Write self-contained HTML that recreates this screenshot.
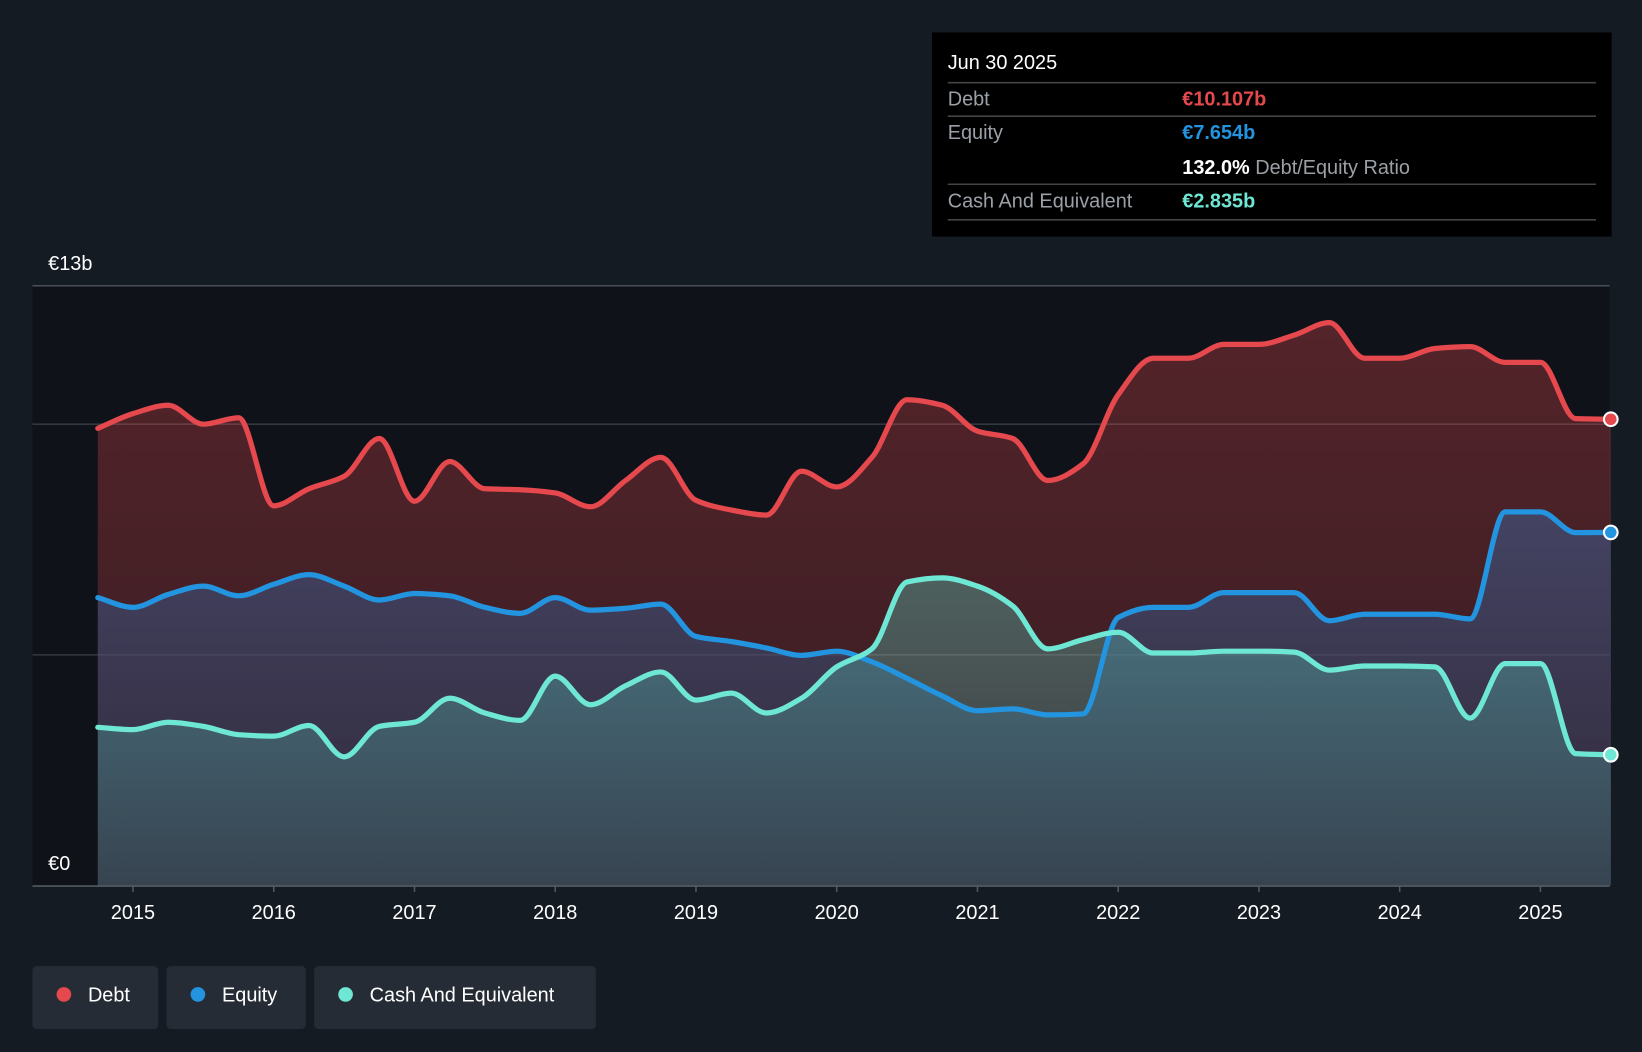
<!DOCTYPE html>
<html><head><meta charset="utf-8"><style>
html,body{margin:0;padding:0;background:#151b23;}
svg{display:block;font-family:"Liberation Sans",Arial,sans-serif;}
</style></head><body>
<svg id="chart" width="1642" height="1052" viewBox="0 0 1568 1005" preserveAspectRatio="none" xmlns="http://www.w3.org/2000/svg">
<defs>
<linearGradient id="gDebt" x1="0" y1="0" x2="0" y2="1"><stop offset="0" stop-color="#e5484d" stop-opacity="0.32"/><stop offset="1" stop-color="#e5484d" stop-opacity="0.18"/></linearGradient>
<linearGradient id="gEq" x1="0" y1="0" x2="0" y2="1"><stop offset="0" stop-color="#3f5a8a" stop-opacity="0.6"/><stop offset="1" stop-color="#2a3a5a" stop-opacity="0.45"/></linearGradient>
<linearGradient id="gCash" x1="0" y1="0" x2="0" y2="1"><stop offset="0" stop-color="#5bd6c6" stop-opacity="0.35"/><stop offset="1" stop-color="#5bd6c6" stop-opacity="0.15"/></linearGradient>
</defs>
<rect x="0" y="0" width="1568" height="1005" fill="#151b23"/>
<rect x="31" y="273" width="1506" height="573" fill="#0f1319"/>
<g id="grid"></g>
<g id="areas"></g>
<g id="lines"></g>
<g id="xaxis"></g>
<text x="46" y="258" fill="#fff" font-size="19">€13b</text>
<text x="46" y="831" fill="#fff" font-size="19">€0</text>
<g>
<rect x="890" y="31" width="649" height="195" fill="#000"/>
<text x="905" y="66" fill="#fff" font-size="19">Jun 30 2025</text>
<line x1="905" y1="79" x2="1524" y2="79" stroke="#444" stroke-width="1.5"/>
<text x="905" y="101" fill="#9aa0a6" font-size="19">Debt</text>
<text x="1129" y="101" fill="#e5484d" font-size="19" font-weight="bold">€10.107b</text>
<line x1="905" y1="111" x2="1524" y2="111" stroke="#444" stroke-width="1.5"/>
<text x="905" y="133" fill="#9aa0a6" font-size="19">Equity</text>
<text x="1129" y="133" fill="#2394df" font-size="19" font-weight="bold">€7.654b</text>
<text x="1129" y="166" fill="#fff" font-size="19" font-weight="bold">132.0% <tspan fill="#9aa0a6" font-weight="normal">Debt/Equity Ratio</tspan></text>
<line x1="905" y1="176" x2="1524" y2="176" stroke="#444" stroke-width="1.5"/>
<text x="905" y="198" fill="#9aa0a6" font-size="19">Cash And Equivalent</text>
<text x="1129" y="198" fill="#6ee7d4" font-size="19" font-weight="bold">€2.835b</text>
<line x1="905" y1="210" x2="1524" y2="210" stroke="#444" stroke-width="1.5"/>
</g>
<g><rect x="31" y="923" width="120" height="60" rx="4" fill="#262c35"/><circle cx="61" cy="950" r="7" fill="#e5484d"/><text x="84" y="957" fill="#fff" font-size="19">Debt</text></g>
<g><rect x="159" y="923" width="133" height="60" rx="4" fill="#262c35"/><circle cx="189" cy="950" r="7" fill="#2394df"/><text x="212" y="957" fill="#fff" font-size="19">Equity</text></g>
<g><rect x="300" y="923" width="269" height="60" rx="4" fill="#262c35"/><circle cx="330" cy="950" r="7" fill="#6ee7d4"/><text x="353" y="957" fill="#fff" font-size="19">Cash And Equivalent</text></g>
</svg>
<script>
const startYear = 2014.75;
const step = 0.25;
const debt = [9.91,10.23,10.41,10.0,10.14,8.23,8.6,8.87,9.69,8.33,9.19,8.6,8.58,8.51,8.21,8.78,9.28,8.35,8.14,8.03,8.98,8.64,9.28,10.53,10.41,9.85,9.69,8.78,9.14,10.64,11.43,11.43,11.73,11.73,11.93,12.2,11.43,11.43,11.64,11.68,11.34,11.34,10.12,10.107];
const equity = [6.24,6.03,6.31,6.49,6.28,6.53,6.74,6.49,6.19,6.33,6.28,6.03,5.9,6.24,5.97,6.01,6.1,5.4,5.29,5.15,4.99,5.08,4.85,4.49,4.11,3.79,3.83,3.7,3.72,5.81,6.03,6.03,6.35,6.35,6.35,5.74,5.88,5.88,5.88,5.78,8.1,8.1,7.65,7.654];
const cash = [3.43,3.38,3.54,3.45,3.27,3.24,3.47,2.79,3.45,3.54,4.06,3.74,3.58,4.54,3.92,4.33,4.63,4.02,4.17,3.74,4.06,4.74,5.13,6.58,6.67,6.49,6.06,5.13,5.33,5.49,5.04,5.04,5.08,5.08,5.06,4.67,4.76,4.76,4.74,3.63,4.81,4.81,2.86,2.835];
const yearTicks = [2015,2016,2017,2018,2019,2020,2021,2022,2023,2024,2025];
const gridValues = [5,10];

const NS="http://www.w3.org/2000/svg";
const xS = t => 127 + (t-2015)*134.4;
const yS = v => 846 - v*(573/13);
function mk(tag,attrs,parent){const e=document.createElementNS(NS,tag);for(const k in attrs)e.setAttribute(k,attrs[k]);parent.appendChild(e);return e;}
function pts(arr){return arr.map((v,i)=>[xS(startYear+i*step),yS(v)]);}
function monoPath(p){
  const n=p.length,d=[],m=[];
  for(let i=0;i<n-1;i++)d.push((p[i+1][1]-p[i][1])/(p[i+1][0]-p[i][0]));
  m[0]=d[0];m[n-1]=d[n-2];
  for(let i=1;i<n-1;i++)m[i]=(d[i-1]*d[i]<=0)?0:(3*(d[i-1]+d[i]))/( (2*d[i]+d[i-1])/d[i-1]*d[i-1]/d[i-1]*0+ (d[i-1]+d[i])*3/ (2/(1/d[i-1]+1/d[i])) );
  for(let i=1;i<n-1;i++)if(d[i-1]*d[i]>0)m[i]=2/(1/d[i-1]+1/d[i]);
  let s=`M${p[0][0]},${p[0][1]}`;
  for(let i=0;i<n-1;i++){const h=(p[i+1][0]-p[i][0])/3;
    s+=` C${p[i][0]+h},${p[i][1]+m[i]*h} ${p[i+1][0]-h},${p[i+1][1]-m[i+1]*h} ${p[i+1][0]},${p[i+1][1]}`;}
  return s;
}
const grid=document.getElementById('grid');
const gl=mk('line',{x1:31,x2:1537,y1:273,y2:273,stroke:'#4a4f57','stroke-width':1.5},grid);


gridValues.forEach(v=>{const l=mk('line',{x1:31,x2:1537,y1:yS(v),y2:yS(v),stroke:'#333840','stroke-width':1.5},grid);
  
  });
const ax=mk('line',{x1:31,x2:1537,y1:846.5,y2:846.5,stroke:'#555a62','stroke-width':1.5},grid);


const xg=document.getElementById('xaxis');
yearTicks.forEach(y=>{const x=xS(y);
  mk('line',{x1:x,x2:x,y1:846,y2:852,stroke:'#555a62','stroke-width':1.5},xg);
  const t=mk('text',{x:x,y:878,fill:'#fff','font-size':19,'text-anchor':'middle'},xg);t.textContent=y;
  
  });
const areas=document.getElementById('areas'),lines=document.getElementById('lines');
const series=[[debt,'#e5484d','url(#gDebt)','debt'],[equity,'#2394df','url(#gEq)','equity'],[cash,'#6ee7d4','url(#gCash)','cash']];
series.forEach(([arr,col,fill,name])=>{
  const p=pts(arr),d=monoPath(p);
  const a=mk('path',{d:d+` L${p[p.length-1][0]},846 L${p[0][0]},846 Z`,fill:fill},areas);
  
  
  const l=mk('path',{d:d,fill:'none',stroke:col,'stroke-width':5,'stroke-linejoin':'round','stroke-linecap':'round'},lines);
  
  
  const last=p[p.length-1];
  const c=mk('circle',{cx:last[0],cy:last[1],r:6.5,fill:col,stroke:'#fff','stroke-width':2},lines);
  
  
});
</script>
</body></html>
